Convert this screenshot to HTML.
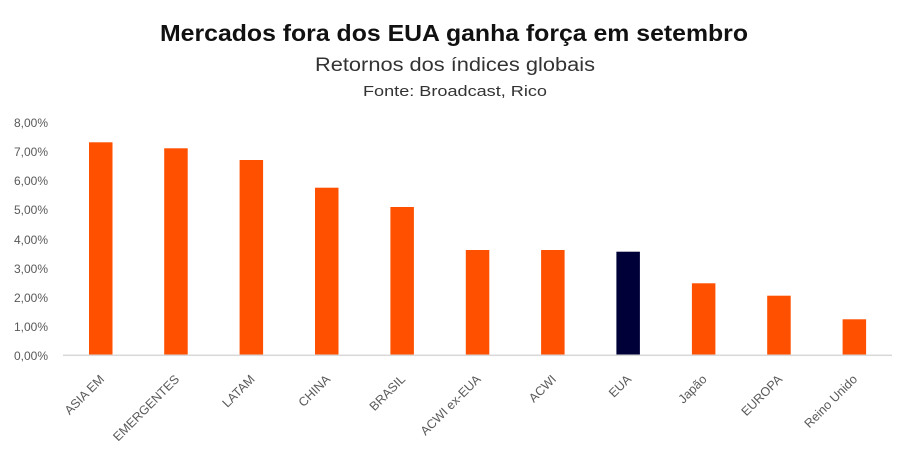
<!DOCTYPE html>
<html>
<head>
<meta charset="utf-8">
<style>
  html, body { margin:0; padding:0; background:#ffffff; }
  body { width:910px; height:456px; overflow:hidden; }
  svg { display:block; }
  text { font-family: "Liberation Sans", "DejaVu Sans", sans-serif; }
</style>
</head>
<body>
<svg width="910" height="456" viewBox="0 0 910 456" xmlns="http://www.w3.org/2000/svg">
  <rect width="910" height="456" fill="#ffffff"/>
  <!-- Titles -->
  <text x="454" y="41" text-anchor="middle" font-size="23" font-weight="bold" fill="#111111" textLength="588" lengthAdjust="spacingAndGlyphs">Mercados fora dos EUA ganha força em setembro</text>
  <text x="455" y="71" text-anchor="middle" font-size="19" fill="#333333" textLength="280" lengthAdjust="spacingAndGlyphs">Retornos dos índices globais</text>
  <text x="455" y="96" text-anchor="middle" font-size="15" fill="#333333" textLength="184" lengthAdjust="spacingAndGlyphs">Fonte: Broadcast, Rico</text>

  <!-- Y axis labels -->
  <g font-size="12" fill="#595959" text-anchor="end">
    <text x="48" y="127">8,00%</text>
    <text x="48" y="156">7,00%</text>
    <text x="48" y="185">6,00%</text>
    <text x="48" y="214">5,00%</text>
    <text x="48" y="244">4,00%</text>
    <text x="48" y="273">3,00%</text>
    <text x="48" y="302">2,00%</text>
    <text x="48" y="331">1,00%</text>
    <text x="48" y="360">0,00%</text>
  </g>

  <!-- Bars -->
  <g fill="#FF5000">
    <rect x="89" y="142.3" width="23.5" height="212.7"/>
    <rect x="164.2" y="148.3" width="23.5" height="206.7"/>
    <rect x="239.6" y="160" width="23.5" height="195"/>
    <rect x="315" y="187.7" width="23.5" height="167.3"/>
    <rect x="390.4" y="207" width="23.5" height="148"/>
    <rect x="465.8" y="250" width="23.5" height="105"/>
    <rect x="541.1" y="250" width="23.5" height="105"/>
    <rect x="691.9" y="283.3" width="23.5" height="71.7"/>
    <rect x="767.2" y="295.7" width="23.5" height="59.3"/>
    <rect x="842.6" y="319.3" width="23.5" height="35.7"/>
  </g>
  <rect x="616.4" y="251.7" width="23.5" height="103.3" fill="#000038"/>

  <!-- Axis line -->
  <rect x="63" y="354.5" width="829" height="1.6" fill="#d9d9d9"/>

  <!-- X labels -->
  <g font-size="12.5" fill="#595959" text-anchor="end">
    <text transform="translate(105,380) rotate(-45)">ASIA EM</text>
    <text transform="translate(180,380) rotate(-45)">EMERGENTES</text>
    <text transform="translate(255.5,380) rotate(-45)">LATAM</text>
    <text transform="translate(331,380) rotate(-45)">CHINA</text>
    <text transform="translate(406,380) rotate(-45)">BRASIL</text>
    <text transform="translate(481.5,380) rotate(-45)">ACWI ex-EUA</text>
    <text transform="translate(557,380) rotate(-45)">ACWI</text>
    <text transform="translate(632,380) rotate(-45)">EUA</text>
    <text transform="translate(707.5,380) rotate(-45)">Japão</text>
    <text transform="translate(783,380) rotate(-45)">EUROPA</text>
    <text transform="translate(858,380) rotate(-45)">Reino Unido</text>
  </g>
</svg>
</body>
</html>
